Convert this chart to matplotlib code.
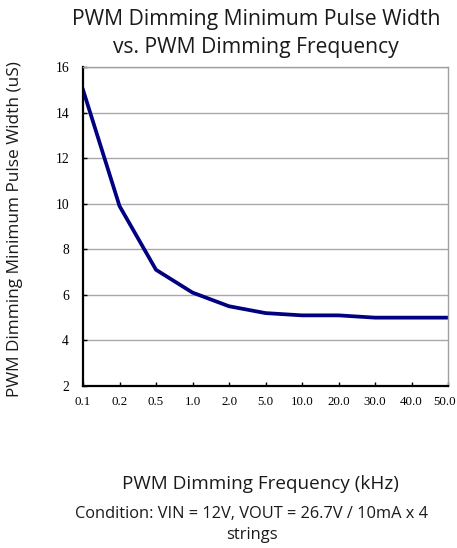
import numpy as np
import matplotlib
matplotlib.use('Agg')
import matplotlib.pyplot as plt
from matplotlib.transforms import ScaledTranslation

# data
freq_labels = ['0.1', '0.2', '0.5', '1.0', '2.0', '5.0', '10.0', '20.0', '30.0', '40.0', '50.0']
pulse_width = [15.0, 9.9, 7.1, 6.1, 5.5, 5.2, 5.1, 5.1, 5.0, 5.0, 5.0]
y_ticks = [2, 4, 6, 8, 10, 12, 14, 16]

sans = ['Open Sans', 'DejaVu Sans']
serif = ['Liberation Serif', 'DejaVu Serif']

fig = plt.figure(figsize=(4.57, 5.48), dpi=100)
ax = fig.add_axes([83/457, 1 - 386/548, 365/457, 319/548])

x = np.arange(len(freq_labels))
ax.plot(x, pulse_width, color='#000080', linewidth=2.7, solid_joinstyle='round')

ax.set_xlim(0, len(freq_labels) - 1)
ax.set_ylim(2, 16)
ax.set_xticks(x)
ax.set_xticklabels(freq_labels, family=serif, fontsize=9.3)
ax.set_yticks(y_ticks)
ax.set_yticklabels([str(v) for v in y_ticks], family=serif, fontsize=9.8)
ax.tick_params(axis='both', direction='in', length=3, width=1, color='black')
ax.tick_params(axis='x', pad=7)
ax.tick_params(axis='y', pad=10)

# last label sits right at the figure edge, nudge it in a little
last = ax.get_xticklabels()[-1]
last.set_transform(last.get_transform() + ScaledTranslation(-3/100, 0, fig.dpi_scale_trans))

ax.grid(axis='y', color='#a8a8a8', linewidth=1)
ax.set_axisbelow(True)
for side in ['left', 'bottom']:
    ax.spines[side].set_color('black')
    ax.spines[side].set_linewidth(1.6)
for side in ['top', 'right']:
    ax.spines[side].set_color('#a0a0a0')
    ax.spines[side].set_linewidth(1)

txt = '#1a1a1a'
cx = 256/457
fig.text(cx, 1 - 20/548, 'PWM Dimming Minimum Pulse Width', ha='center', va='center',
         family=sans, fontsize=15.2, color=txt)
fig.text(cx, 1 - 47/548, 'vs. PWM Dimming Frequency', ha='center', va='center',
         family=sans, fontsize=15.2, color=txt)
fig.text(15/457, 1 - 229/548, 'PWM Dimming Minimum Pulse Width (uS)', rotation=90,
         ha='center', va='center', family=sans, fontsize=12.4, color=txt)
fig.text(260/457, 1 - 484/548, 'PWM Dimming Frequency (kHz)', ha='center', va='center',
         family=sans, fontsize=13.6, color=txt)
fig.text(252/457, 1 - 514/548, 'Condition: VIN = 12V, VOUT = 26.7V / 10mA x 4', ha='center',
         va='center', family=sans, fontsize=11.8, color=txt)
fig.text(252/457, 1 - 535/548, 'strings', ha='center', va='center',
         family=sans, fontsize=11.8, color=txt)

fig.savefig('out.png', dpi=100)
